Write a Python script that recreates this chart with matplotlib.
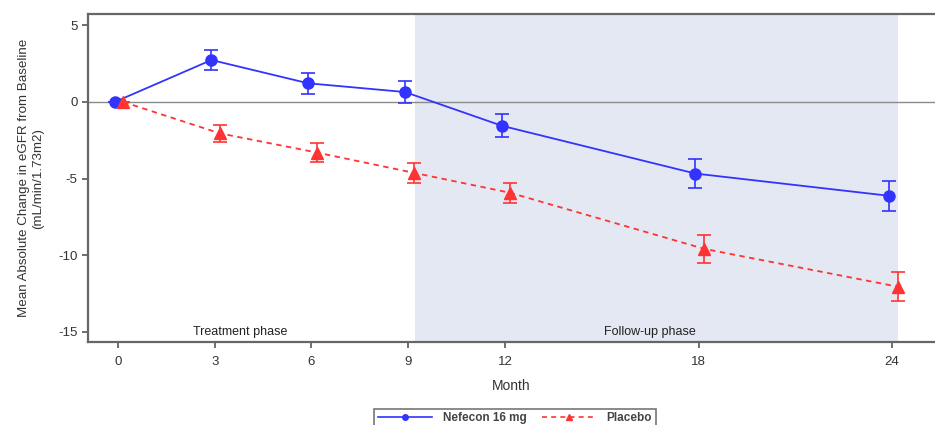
import matplotlib.pyplot as plt
from matplotlib.lines import Line2D
import numpy as np

plt.rcParams['font.family'] = ['Liberation Sans', 'DejaVu Sans']
plt.rcParams['axes.unicode_minus'] = False

# --- data ---
months = [0, 3, 6, 9, 12, 18, 24]
nefecon_mean = [0.0, 2.74, 1.22, 0.65, -1.55, -4.67, -6.12]
nefecon_err = [0.0, 0.62, 0.70, 0.74, 0.74, 0.93, 0.98]
placebo_mean = [0.0, -2.05, -3.30, -4.62, -5.93, -9.58, -12.05]
placebo_err = [0.0, 0.53, 0.63, 0.65, 0.65, 0.92, 0.96]
tick_months = [0, 3, 6, 9, 12, 18, 24]
y_ticks = [5, 0, -5, -10, -15]

blue = '#3333ff'
red = '#ff3333'
dash = (0, (3, 2.5))

fig = plt.figure(figsize=(9.35, 4.25), dpi=100)
ax = fig.add_axes([0.094, 0.195, 0.906, 0.772])

ax.axvspan(9.21, 24.19, color='#e4e8f3', zorder=0, lw=0)
ax.axhline(0, color='#8a8a8a', lw=1.0, zorder=1)

x = np.array(months, dtype=float)
ax.errorbar(x - 0.1, nefecon_mean, yerr=nefecon_err, color=blue, marker='o',
            markersize=8, lw=1.3, capsize=5, elinewidth=1.2, capthick=1.2, zorder=3)
ax.errorbar(x + 0.17, placebo_mean, yerr=placebo_err, color=red, marker='^',
            markersize=8.5, lw=1.3, ls=dash, capsize=5, elinewidth=1.2,
            capthick=1.2, zorder=3)

ax.set_xlim(-0.93, 25.33)
ax.set_ylim(-15.67, 5.74)
ax.set_xticks(tick_months)
ax.set_yticks(y_ticks)
ax.tick_params(axis='both', colors='#555555', labelcolor='#333333', labelsize=9.5,
               length=4, width=1.2)
ax.tick_params(axis='x', pad=6)

for side in ['left', 'bottom', 'top']:
    ax.spines[side].set_color('#666666')
    ax.spines[side].set_linewidth(1.6)
ax.spines['right'].set_visible(False)

ax.text(3.8, -15.0, 'Treatment phase', ha='center', va='center', fontsize=9, color='#222222')
ax.text(16.5, -15.0, 'Follow-up phase', ha='center', va='center', fontsize=9, color='#222222')

ax.set_xlabel('Month', fontsize=10, color='#333333', labelpad=8)
ax.set_ylabel('Mean Absolute Change in eGFR from Baseline\n(mL/min/1.73m2)',
              fontsize=9.6, color='#333333', labelpad=10, linespacing=1.25)

handles = [
    Line2D([], [], color=blue, lw=1.2, marker='o', markersize=4),
    Line2D([], [], color=red, lw=1.2, ls=dash, marker='^', markersize=4.5),
]
leg = fig.legend(handles, ['Nefecon 16 mg', 'Placebo'], loc='upper center',
                 bbox_to_anchor=(515 / 935, 1 - 403 / 425), ncol=2, frameon=True,
                 fancybox=False, edgecolor='#555555', handlelength=4.6,
                 columnspacing=1.3, borderpad=0.3, handletextpad=0.9,
                 prop={'weight': 'bold', 'size': 8.5})
leg.get_frame().set_linewidth(1.2)
for t in leg.get_texts():
    t.set_color('#444444')

fig.savefig('out.png', dpi=100)
